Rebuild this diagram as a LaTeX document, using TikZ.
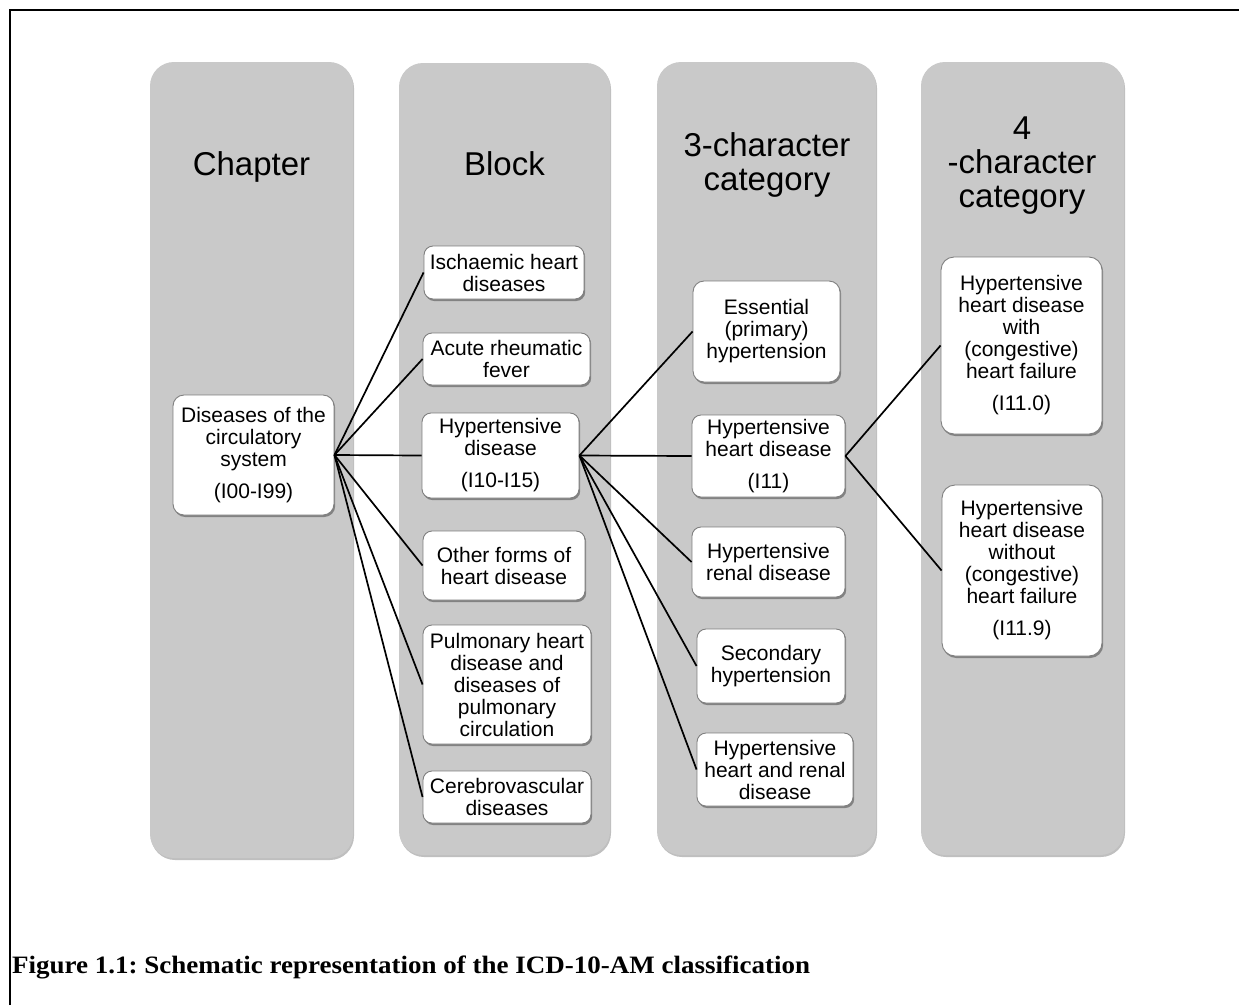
\documentclass[tikz,border=0pt]{standalone}
\usepackage{fontspec}
\setmainfont{Liberation Sans}
\newfontfamily\capfont[FakeStretch=1.08]{Liberation Serif}
\usetikzlibrary{shadows}
\definecolor{colgray}{HTML}{C9C9C9}
\definecolor{boxborder}{HTML}{7F7F7F}
\begin{document}
\frenchspacing
\begin{tikzpicture}[x=1pt,y=-1pt,
  col/.style={fill=colgray, draw=none, rounded corners=24pt, inner sep=0pt,
     drop shadow={shadow xshift=1pt, shadow yshift=-2pt, opacity=0.25, fill=black}},
  hdr/.style={align=center, font=\fontsize{33}{34}\selectfont, inner sep=0pt, anchor=base},
  box/.style={fill=white, draw=boxborder, line width=0.9pt, rounded corners=9pt, align=center, inner sep=0pt,
     font=\fontsize{21}{22}\selectfont,
     drop shadow={shadow xshift=1.2pt, shadow yshift=-2pt, opacity=0.35, fill=black}},
  conn/.style={line width=1.7pt, black}]
\useasboundingbox (0,0) rectangle (1239,1005);
\fill[white] (0,0) rectangle (1239,1005);
\draw[line width=2pt] (10,1005) -- (10,10) -- (1239,10);

% columns
\node[col, minimum width=203pt, minimum height=796pt] (c1) at (251.5,460) {};
\node[col, minimum width=211pt, minimum height=792pt] (c2) at (504.5,459) {};
\node[col, minimum width=219pt, minimum height=793pt] (c3) at (766.5,458.5) {};
\node[col, minimum width=203pt, minimum height=793pt] (c4) at (1022.5,458.5) {};

% headers (base = baseline of last line)
\node[hdr] (h1) at (251.5,175) {Chapter};
\node[hdr] (h2) at (504.5,175) {Block};
\node[hdr] (h3) at (767,190) {3-character\\category};
\node[hdr] (h4) at (1022,207) {4\\-character\\category};

% chapter
\node[box, rounded corners=11pt, minimum width=161pt, minimum height=120pt] (dis) at (253.5,455) {Diseases of the\\circulatory\\system\\[10pt](I00-I99)};

% blocks
\node[box, minimum width=160pt, minimum height=53pt] (isch) at (504,272.5) {Ischaemic heart\\diseases};
\node[box, minimum width=167pt, minimum height=52pt] (acute) at (506.5,359) {Acute rheumatic\\fever};
\node[box, minimum width=157pt, minimum height=85pt] (hyp) at (500.5,455.5) {Hypertensive\\disease\\[10pt](I10-I15)};
\node[box, minimum width=162pt, minimum height=69pt] (other) at (504,565.5) {Other forms of\\heart disease};
\node[box, minimum width=168pt, minimum height=119pt] (pulm) at (507,684.5) {Pulmonary heart\\disease and\\diseases of\\pulmonary\\circulation};
\node[box, minimum width=168pt, minimum height=52pt] (cereb) at (507,797) {Cerebrovascular\\diseases};

% 3-character
\node[box, rounded corners=11pt, minimum width=147pt, minimum height=101pt] (ess) at (766.5,331.5) {Essential\\(primary)\\hypertension};
\node[box, minimum width=153pt, minimum height=82pt] (hhd) at (768.5,456) {Hypertensive\\heart disease\\[10pt](I11)};
\node[box, minimum width=153pt, minimum height=70pt] (renal) at (768.5,562) {Hypertensive\\renal disease};
\node[box, minimum width=148pt, minimum height=74pt] (sec) at (771,666) {Secondary\\hypertension};
\node[box, minimum width=156pt, minimum height=73pt] (hhrd) at (775,769.5) {Hypertensive\\heart and renal\\disease};

% 4-character
\node[box, rounded corners=13pt, minimum width=161pt, minimum height=177pt] (with) at (1021.5,345.5) {Hypertensive\\heart disease\\with\\(congestive)\\heart failure\\[10pt](I11.0)};
\node[box, rounded corners=13pt, minimum width=160pt, minimum height=171pt] (without) at (1022,570.5) {Hypertensive\\heart disease\\without\\(congestive)\\heart failure\\[10pt](I11.9)};

% connectors
\foreach \t in {isch,acute,hyp,other,pulm,cereb} \draw[conn] (dis.east) -- (\t.west);
\foreach \t in {ess,hhd,renal,sec,hhrd} \draw[conn] (hyp.east) -- (\t.west);
\foreach \t in {with,without} \draw[conn] (hhd.east) -- (\t.west);

% caption
\node[anchor=base west, inner sep=0pt, font=\capfont\bfseries\fontsize{25}{28}\selectfont] (cap) at (12,973) {Figure 1.1: Schematic representation of the ICD-10-AM classification};
\end{tikzpicture}
\end{document}
